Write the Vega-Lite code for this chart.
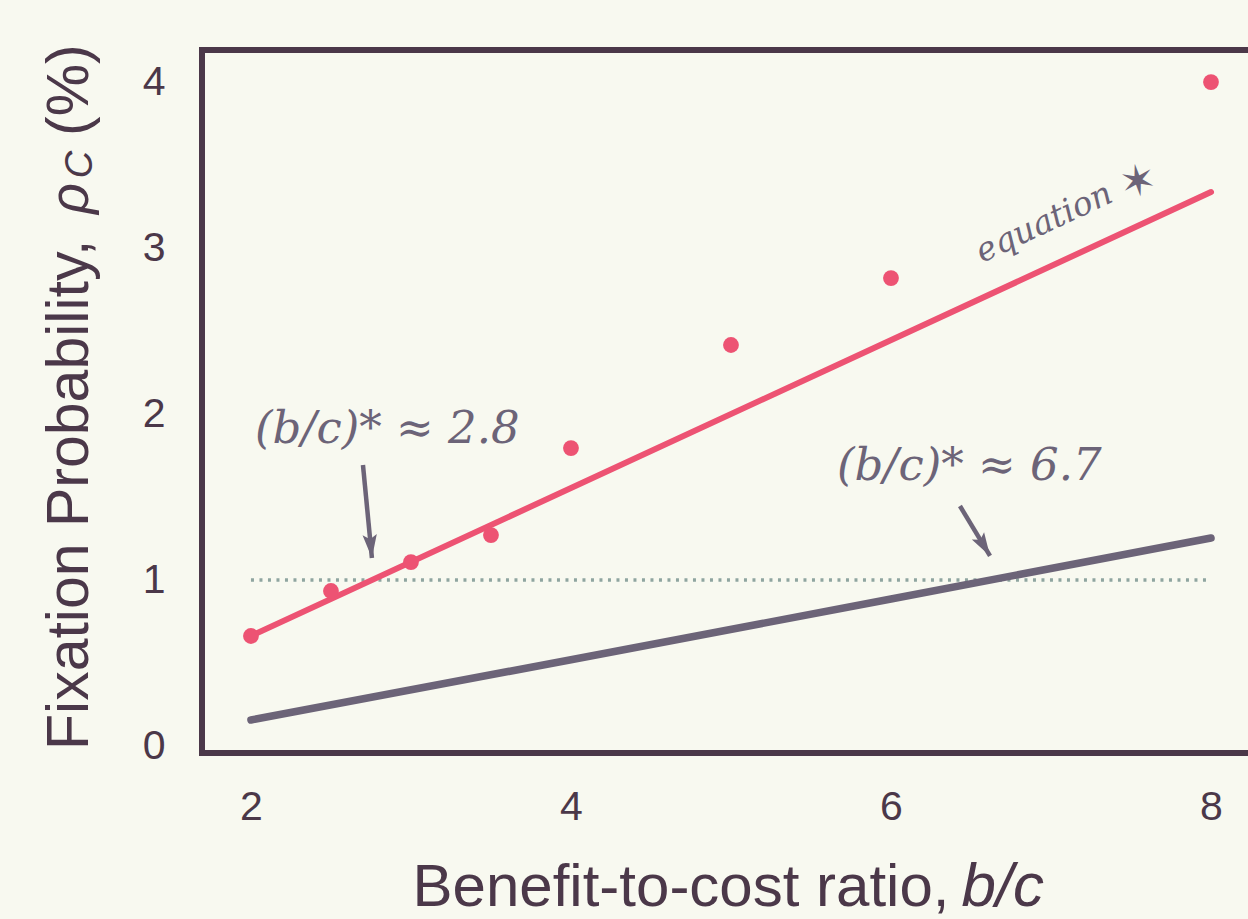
{
  "$schema": "https://vega.github.io/schema/vega-lite/v6.json",
  "width": 1057,
  "height": 703,
  "autosize": {"type": "none"},
  "padding": {"left": 202, "top": 50, "right": 0, "bottom": 166},
  "background": "#F8F9F0",
  "config": {"view": {"stroke": "#4B3849", "strokeWidth": 6}, "font": "Liberation Sans"},
  "datasets": {
    "sim": [
      {"bc": 2, "rho": 0.663},
      {"bc": 2.5, "rho": 0.934},
      {"bc": 3, "rho": 1.108},
      {"bc": 3.5, "rho": 1.271},
      {"bc": 4, "rho": 1.795},
      {"bc": 5, "rho": 2.416},
      {"bc": 6, "rho": 2.819},
      {"bc": 8, "rho": 4.0}
    ],
    "theory": [
      {"bc": 2, "rho": 0.663},
      {"bc": 8, "rho": 3.337}
    ],
    "baseline": [
      {"bc": 2, "rho": 0.157},
      {"bc": 4, "rho": 0.52},
      {"bc": 6, "rho": 0.886},
      {"bc": 8, "rho": 1.253}
    ],
    "threshold": [{"bc": 2, "bc2": 8, "rho": 1}],
    "notes": [
      {"label": "(b/c)* ≈ 2.8", "bc": 2.025, "rho": 1.825},
      {"label": "(b/c)* ≈ 6.7", "bc": 5.6625, "rho": 1.602}
    ],
    "eq": [{"label": "equation", "bc": 6.569, "rho": 2.91}],
    "star": [{"label": "✶", "bc": 7.544, "rho": 3.392}],
    "arrows": [
      {"id": "a", "bc": 2.70, "rho": 1.693, "bc2": 2.756, "rho2": 1.133},
      {"id": "b", "bc": 6.431, "rho": 1.446, "bc2": 6.619, "rho2": 1.145}
    ],
    "titles": [
      {"part": "x1", "label": "Benefit-to-cost ratio,", "bc": 3.01, "rho": -0.964},
      {"part": "x2", "label": "b/c", "bc": 6.44, "rho": -0.964},
      {"part": "y1", "label": "Fixation Probability,", "bc": 0.981, "rho": -0.024},
      {"part": "y2", "label": "ρ", "bc": 0.981, "rho": 3.205},
      {"part": "y3", "label": "C", "bc": 1.006, "rho": 3.42},
      {"part": "y4", "label": "(%)", "bc": 0.981, "rho": 3.675}
    ]
  },
  "encoding": {
    "x": {
      "field": "bc", "type": "quantitative",
      "scale": {"domain": [1.694, 8.3], "nice": false, "zero": false},
      "axis": {"values": [2, 4, 6, 8], "title": null, "grid": false, "domain": false, "ticks": false, "labelFontSize": 41, "labelColor": "#4B3849", "labelPadding": 34, "labelFont": "Liberation Sans", "labelFlush": false}
    },
    "y": {
      "field": "rho", "type": "quantitative",
      "scale": {"domain": [-0.042, 4.193], "nice": false, "zero": false},
      "axis": {"values": [0, 1, 2, 3, 4], "title": null, "grid": false, "domain": false, "ticks": false, "labelFontSize": 41, "labelColor": "#4B3849", "labelPadding": 37, "labelFont": "Liberation Sans", "labelFlush": false}
    }
  },
  "layer": [
    {
      "data": {"name": "threshold"},
      "mark": {"type": "rule", "color": "#8FA5A0", "strokeWidth": 3.5, "strokeDash": [3, 5.5]},
      "encoding": {"x2": {"field": "bc2"}}
    },
    {
      "data": {"name": "baseline"},
      "mark": {"type": "line", "color": "#6C6478", "strokeWidth": 7.5, "strokeCap": "round"},
      "encoding": {}
    },
    {
      "data": {"name": "theory"},
      "mark": {"type": "line", "color": "#ED5373", "strokeWidth": 6, "strokeCap": "round"},
      "encoding": {}
    },
    {
      "data": {"name": "sim"},
      "mark": {"type": "circle", "color": "#ED5373", "opacity": 1, "size": 250},
      "encoding": {}
    },
    {
      "data": {"name": "arrows"},
      "mark": {"type": "rule", "color": "#6C6478", "strokeWidth": 4.5},
      "encoding": {"x2": {"field": "bc2"}, "y2": {"field": "rho2"}}
    },
    {
      "data": {"name": "arrows"},
      "transform": [{"filter": "datum.id === 'a'"}],
      "mark": {"type": "point", "shape": "M0,0L-0.55,-1.8L0,-1.45L0.55,-1.8Z", "filled": true, "color": "#6C6478", "opacity": 1, "size": 680, "angle": -5.5},
      "encoding": {"x": {"field": "bc2", "type": "quantitative"}, "y": {"field": "rho2", "type": "quantitative"}}
    },
    {
      "data": {"name": "arrows"},
      "transform": [{"filter": "datum.id === 'b'"}],
      "mark": {"type": "point", "shape": "M0,0L-0.55,-1.8L0,-1.45L0.55,-1.8Z", "filled": true, "color": "#6C6478", "opacity": 1, "size": 680, "angle": -31},
      "encoding": {"x": {"field": "bc2", "type": "quantitative"}, "y": {"field": "rho2", "type": "quantitative"}}
    },
    {
      "data": {"name": "notes"},
      "mark": {"type": "text", "font": "DejaVu Serif", "fontStyle": "italic", "fontSize": 45, "color": "#6C6478", "align": "left", "baseline": "alphabetic"},
      "encoding": {"text": {"field": "label"}}
    },
    {
      "data": {"name": "eq"},
      "mark": {"type": "text", "font": "DejaVu Serif", "fontStyle": "italic", "fontSize": 33, "color": "#6C6478", "align": "left", "baseline": "alphabetic", "angle": -25},
      "encoding": {"text": {"field": "label"}}
    },
    {
      "data": {"name": "star"},
      "mark": {"type": "text", "font": "DejaVu Sans", "fontSize": 44, "color": "#6C6478", "align": "center", "baseline": "middle", "angle": -10},
      "encoding": {"text": {"field": "label"}}
    },
    {
      "data": {"name": "titles"},
      "transform": [{"filter": "datum.part === 'x1'"}],
      "mark": {"type": "text", "font": "Liberation Sans", "fontSize": 60, "color": "#4B3849", "align": "left", "baseline": "alphabetic"},
      "encoding": {"text": {"field": "label"}}
    },
    {
      "data": {"name": "titles"},
      "transform": [{"filter": "datum.part === 'x2'"}],
      "mark": {"type": "text", "font": "Liberation Sans", "fontStyle": "italic", "fontSize": 62, "color": "#4B3849", "align": "left", "baseline": "alphabetic"},
      "encoding": {"text": {"field": "label"}}
    },
    {
      "data": {"name": "titles"},
      "transform": [{"filter": "datum.part === 'y1' || datum.part === 'y4'"}],
      "mark": {"type": "text", "font": "Liberation Sans", "fontSize": 59, "color": "#4B3849", "align": "left", "baseline": "alphabetic", "angle": 270},
      "encoding": {"text": {"field": "label"}}
    },
    {
      "data": {"name": "titles"},
      "transform": [{"filter": "datum.part === 'y2'"}],
      "mark": {"type": "text", "font": "Liberation Sans", "fontStyle": "italic", "fontSize": 54, "color": "#4B3849", "align": "left", "baseline": "alphabetic", "angle": 270},
      "encoding": {"text": {"field": "label"}}
    },
    {
      "data": {"name": "titles"},
      "transform": [{"filter": "datum.part === 'y3'"}],
      "mark": {"type": "text", "font": "Liberation Sans", "fontStyle": "italic", "fontSize": 38, "color": "#4B3849", "align": "left", "baseline": "alphabetic", "angle": 270},
      "encoding": {"text": {"field": "label"}}
    }
  ]
}
